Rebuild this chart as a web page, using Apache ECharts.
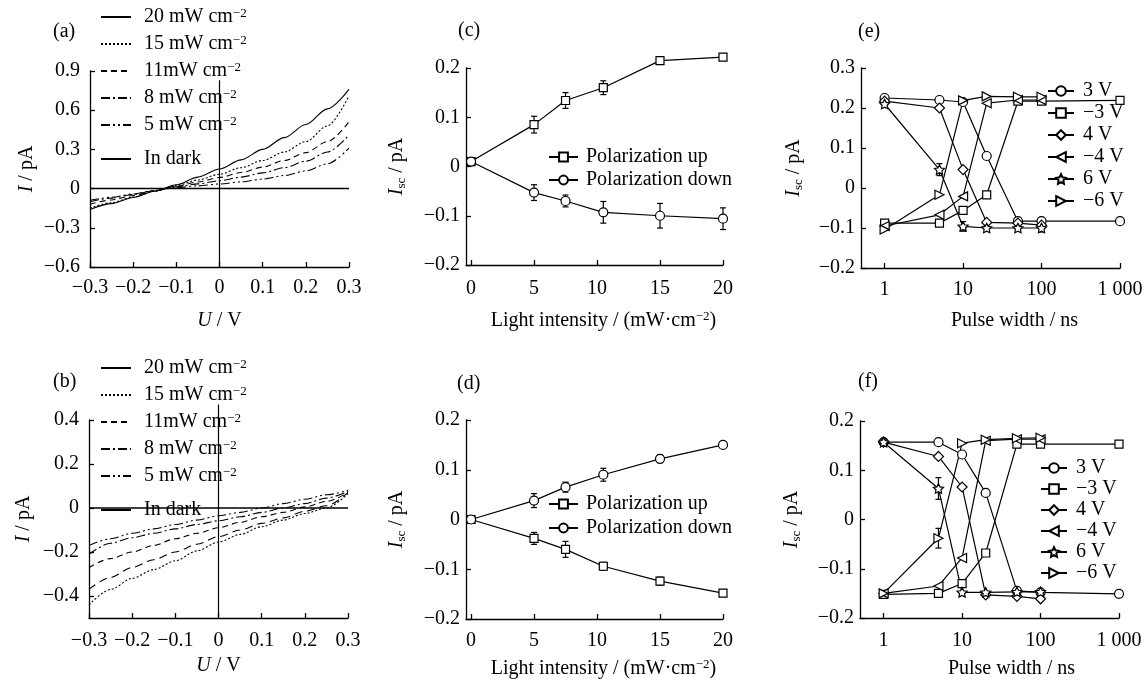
<!DOCTYPE html>
<html>
<head>
<meta charset="utf-8">
<title>Photocurrent panels</title>
<script src="https://cdn.jsdelivr.net/npm/echarts@6/dist/echarts.min.js"></script>
<style>
  html, body { margin: 0; padding: 0; background: #fff; }
  #chart { width: 1147px; height: 681px; }
</style>
</head>
<body>
<div id="chart"></div>
<script>
const serif = '"Liberation Serif", "Times New Roman", serif';

// (a) and (b): I-U curves
const voltage = [-0.3, -0.25, -0.2, -0.15, -0.1, -0.05, 0, 0.05, 0.1, 0.15, 0.2, 0.25, 0.3];
const lightNames = ['20 mW cm-2', '15 mW cm-2', '11mW cm-2', '8 mW cm-2', '5 mW cm-2'];
const darkName = 'In dark';

const a20 = [-0.16, -0.115, -0.068, -0.02, 0.03, 0.088, 0.15, 0.22, 0.30, 0.39, 0.49, 0.61, 0.76];
const a15 = [-0.15, -0.108, -0.065, -0.02, 0.023, 0.066, 0.11, 0.16, 0.215, 0.28, 0.36, 0.48, 0.71];
const a11 = [-0.12, -0.087, -0.053, -0.017, 0.018, 0.05, 0.085, 0.123, 0.165, 0.215, 0.275, 0.36, 0.51];
const a8 = [-0.10, -0.073, -0.045, -0.015, 0.013, 0.036, 0.06, 0.088, 0.12, 0.16, 0.21, 0.28, 0.41];
const a5 = [-0.09, -0.066, -0.041, -0.014, 0.008, 0.021, 0.035, 0.052, 0.073, 0.1, 0.135, 0.19, 0.31];
const aDark = [0, 0, 0, 0, 0, 0, 0, 0, 0, 0, 0, 0, 0];
const aZeroLine = [[0, -0.6], [0, 0.83]];

const b20 = [-0.37, -0.315, -0.27, -0.235, -0.2, -0.165, -0.13, -0.1, -0.07, -0.045, -0.015, 0.01, 0.07];
const b15 = [-0.44, -0.37, -0.32, -0.28, -0.24, -0.195, -0.155, -0.12, -0.085, -0.055, -0.025, 0.0, 0.065];
const b11 = [-0.27, -0.23, -0.2, -0.17, -0.14, -0.115, -0.09, -0.065, -0.04, -0.02, 0.005, 0.03, 0.07];
const b8 = [-0.21, -0.16, -0.135, -0.115, -0.095, -0.075, -0.058, -0.04, -0.02, 0, 0.02, 0.045, 0.075];
const b5 = [-0.17, -0.14, -0.115, -0.095, -0.075, -0.055, -0.035, -0.02, 0, 0.02, 0.04, 0.06, 0.08];
const bDark = [0, 0, 0, 0, 0, 0, 0, 0, 0, 0, 0, 0, 0];
const bZeroLine = [[0, -0.5], [0, 0.47]];

// (c) and (d): Isc vs light intensity
const light = [0, 5, 7.5, 10.5, 15, 20];
const cUp = [0.01, 0.085, 0.134, 0.16, 0.215, 0.222];
const cUpErr = [0, 0.017, 0.016, 0.014, 0.005, 0];
const cDown = [0.01, -0.053, -0.07, -0.093, -0.1, -0.106];
const cDownErr = [0, 0.016, 0.012, 0.022, 0.025, 0.022];
const dUp = [0, -0.038, -0.06, -0.094, -0.124, -0.148];
const dUpErr = [0, 0.012, 0.016, 0.008, 0.008, 0.004];
const dDown = [0, 0.038, 0.065, 0.09, 0.122, 0.15];
const dDownErr = [0, 0.014, 0.01, 0.013, 0.008, 0];

// (e) and (f): Isc vs pulse width
const pulse = [1, 5, 10, 20, 50, 100, 1000];
const pulseNames = ['3 V', '−3 V', '4 V', '−4 V', '6 V', '−6 V'];
const e3 = [0.225, 0.22, 0.215, 0.08, -0.083, -0.083, -0.083];
const eM3 = [-0.088, -0.088, -0.056, -0.017, 0.217, 0.217, 0.219];
const e4 = [0.217, 0.2, 0.046, -0.086, -0.088, -0.093, null];
const eM4 = [-0.095, -0.067, -0.021, 0.212, 0.22, 0.22, null];
const e6 = [0.21, 0.046, -0.096, -0.1, -0.1, -0.1, null];
const eM6 = [-0.104, -0.017, 0.219, 0.229, 0.228, 0.228, null];
const e6Err = [0, 0.015, 0.012, 0.005, 0.005, 0.01, 0];

const f3 = [0.157, 0.157, 0.132, 0.054, -0.145, -0.148, -0.151];
const fM3 = [-0.152, -0.15, -0.13, -0.068, 0.153, 0.153, 0.153];
const f4 = [0.157, 0.128, 0.066, -0.153, -0.156, -0.161, null];
const fM4 = [-0.15, -0.135, -0.078, 0.16, 0.163, 0.163, null];
const f6 = [0.157, 0.063, -0.148, -0.148, -0.147, -0.147, null];
const fM6 = [-0.15, -0.038, 0.155, 0.162, 0.165, 0.166, null];
const f6Err = [0, 0.022, 0, 0, 0, 0, 0];
const fM6Err = [0, 0.02, 0, 0, 0, 0, 0];

const STAR = 'path://M0,-10L2.94,-4.05L9.51,-3.09L4.76,1.55L5.88,8.09L0,5L-5.88,8.09L-4.76,1.55L-9.51,-3.09L-2.94,-4.05Z';
const TRI_LEFT = 'path://M10,0L0,5L10,10Z';
const TRI_RIGHT = 'path://M0,0L10,5L0,10Z';
const pulseSymbols = [['circle', 9], ['rect', 8], ['diamond', 10], [TRI_LEFT, 9], [STAR, 10], [TRI_RIGHT, 9]];

function pair(xs, ys) {
  return xs.map((x, i) => [x, ys[i]]).filter(p => p[1] !== null);
}

function num(v) {
  const n = Math.round(v * 100) / 100;
  return n < 0 ? '−' + (-n) : String(n);
}

const black = '#000';

function curve(name, xs, ys, idx, dash, width) {
  return {
    name, type: 'line', xAxisIndex: idx, yAxisIndex: idx,
    data: pair(xs, ys), symbol: 'none', smooth: 0.3, smoothMonotone: 'x',
    itemStyle: { color: 'rgba(0,0,0,0)', borderWidth: 0 },
    lineStyle: { color: black, width: width || 1.1, type: dash }, z: 2
  };
}

function points(name, xs, ys, idx, sym, size) {
  return {
    name, type: 'line', xAxisIndex: idx, yAxisIndex: idx, clip: false,
    data: pair(xs, ys), symbol: sym, symbolSize: size, symbolKeepAspect: true,
    itemStyle: { color: '#fff', borderColor: black, borderWidth: 1.2 },
    lineStyle: { color: black, width: 1.2 }, z: 3
  };
}

function errBars(xs, ys, es, idx) {
  return {
    type: 'custom', xAxisIndex: idx, yAxisIndex: idx, silent: true, z: 1, clip: false,
    dimensions: ['x', 'y', 'e'], encode: { x: 0, y: 1 },
    data: xs.map((x, i) => [x, ys[i], es[i]]).filter(d => d[1] !== null && d[2] > 0),
    renderItem(params, api) {
      const x = api.value(0), y = api.value(1), e = api.value(2);
      const top = api.coord([x, y + e]);
      const bot = api.coord([x, y - e]);
      const st = { stroke: black, lineWidth: 1.2 };
      return {
        type: 'group', children: [
          { type: 'line', shape: { x1: top[0], y1: top[1], x2: bot[0], y2: bot[1] }, style: st },
          { type: 'line', shape: { x1: top[0] - 3, y1: top[1], x2: top[0] + 3, y2: top[1] }, style: st },
          { type: 'line', shape: { x1: bot[0] - 3, y1: bot[1], x2: bot[0] + 3, y2: bot[1] }, style: st }
        ]
      };
    }
  };
}

const richText = {
  i: { fontFamily: serif, fontSize: 20, fontStyle: 'italic', color: black },
  sup: { fontFamily: serif, fontSize: 13, verticalAlign: 'top', lineHeight: 10, color: black },
  sub: { fontFamily: serif, fontSize: 13, verticalAlign: 'bottom', lineHeight: 12, color: black }
};

function axis(idx, type, min, max, ticks, extra) {
  return Object.assign({
    gridIndex: idx, type, min, max,
    axisLine: { onZero: false, lineStyle: { color: black, width: 1.3 } },
    axisTick: { inside: true, length: 5, customValues: ticks, lineStyle: { color: black, width: 1.3 } },
    axisLabel: { customValues: ticks, color: black, fontFamily: serif, fontSize: 20, margin: 10, formatter: num },
    splitLine: { show: false },
    minorTick: { show: false },
    nameLocation: 'middle',
    nameTextStyle: { fontFamily: serif, fontSize: 20, color: black, lineHeight: 22, rich: richText }
  }, extra);
}

function legend(names, left, top, gap, iconW, textPad, iconH) {
  const h = iconH || 10;
  return {
    data: names, orient: 'vertical', left, top, padding: 0,
    itemWidth: iconW, itemHeight: h, itemGap: gap + Math.max(0, 20 - h) * 0,
    formatter: n => n.replace('cm-2', 'cm{sup|−2}'),
    textStyle: { fontFamily: serif, fontSize: 20, lineHeight: 20, color: black, padding: [0, 0, 0, textPad], rich: richText }
  };
}

function label(text, left, top) {
  return { text, left, top, padding: 0, textStyle: { fontFamily: serif, fontSize: 20, fontWeight: 'normal', color: black } };
}

const aSets = [a20, a15, a11, a8, a5];
const bSets = [b20, b15, b11, b8, b5];
const aDash = ['solid', [2, 2], [6, 4], [9, 3, 2, 3], [9, 3, 2, 3, 2, 3]];
const bDash = [[8, 5], [2, 2], [6, 4], [9, 3, 2, 3], [9, 3, 2, 3, 2, 3]];

const series = [];
lightNames.forEach((n, i) => series.push(curve(n, voltage, aSets[i], 0, aDash[i])));
series.push(curve(darkName, voltage, aDark, 0, 'solid', 1.5));
series.push(Object.assign(curve('', aZeroLine.map(p => p[0]), aZeroLine.map(p => p[1]), 0, 'solid', 1.2), { smooth: false, clip: false }));
lightNames.forEach((n, i) => series.push(curve(n, voltage, bSets[i], 1, bDash[i])));
series.push(curve(darkName, voltage, bDark, 1, 'solid', 1.5));
series.push(Object.assign(curve('', bZeroLine.map(p => p[0]), bZeroLine.map(p => p[1]), 1, 'solid', 1.2), { smooth: false, clip: false }));

series.push(errBars(light, cUp, cUpErr, 2), errBars(light, cDown, cDownErr, 2));
series.push(points('Polarization up', light, cUp, 2, 'rect', 8));
series.push(points('Polarization down', light, cDown, 2, 'circle', 9));
series.push(errBars(light, dUp, dUpErr, 3), errBars(light, dDown, dDownErr, 3));
series.push(points('Polarization up', light, dUp, 3, 'rect', 8));
series.push(points('Polarization down', light, dDown, 3, 'circle', 9));

const eSets = [e3, eM3, e4, eM4, e6, eM6];
const fSets = [f3, fM3, f4, fM4, f6, fM6];
series.push(errBars(pulse, e6, e6Err, 4));
series.push(errBars(pulse, f6, f6Err, 5), errBars(pulse, fM6, fM6Err, 5));
pulseNames.forEach((n, i) => series.push(points(n, pulse, eSets[i], 4, pulseSymbols[i][0], pulseSymbols[i][1])));
pulseNames.forEach((n, i) => series.push(points(n, pulse, fSets[i], 5, pulseSymbols[i][0], pulseSymbols[i][1])));

const uName = '{i|U} / V';
const iName = '{i|I} / pA';
const iscName = '{i|I}{sub|sc} / pA';
const lightName = 'Light intensity / (mW·cm{sup|−2})';
const pulseName = 'Pulse width / ns';
const pulseFmt = v => (v >= 1000 ? '1 000' : String(v));
const shifted = pad => ({ fontFamily: serif, fontSize: 20, color: black, lineHeight: 22, rich: richText, padding: [0, 0, 0, pad] });

const option = {
  animation: false,
  backgroundColor: '#fff',
  title: [
    label('(a)', 53, 22), label('(b)', 53, 372),
    label('(c)', 458, 21), label('(d)', 457, 374),
    label('(e)', 858, 22), label('(f)', 858, 372)
  ],
  legend: [
    legend(lightNames, 100, 7, 7, 30, 8),
    legend([darkName], 100, 149, 7, 30, 8),
    legend(lightNames, 100, 358, 7, 30, 8),
    legend([darkName], 100, 500, 7, 30, 8),
    legend(['Polarization up', 'Polarization down'], 548, 147, 3, 29, 3, 11),
    legend(['Polarization up', 'Polarization down'], 548, 494, 4, 29, 3, 11),
    legend(pulseNames, 1047, 81, 2, 26, 4, 12),
    legend(pulseNames, 1040, 458, 1, 26, 4, 12)
  ],
  grid: [
    { left: 90, top: 71, width: 259, height: 196 },
    { left: 89, top: 420, width: 259, height: 198 },
    { left: 466, top: 68, width: 257, height: 197 },
    { left: 466, top: 420, width: 257, height: 199 },
    { left: 861, top: 68, width: 259, height: 200 },
    { left: 860, top: 421, width: 259, height: 197 }
  ],
  xAxis: [
    axis(0, 'value', -0.3, 0.3, [-0.3, -0.2, -0.1, 0, 0.1, 0.2, 0.3], { name: uName, nameGap: 43 }),
    axis(1, 'value', -0.3, 0.3, [-0.3, -0.2, -0.1, 0, 0.1, 0.2, 0.3], { name: uName, nameGap: 37 }),
    axis(2, 'value', -0.4, 20, [0, 5, 10, 15, 20], { name: lightName, nameGap: 45, nameTextStyle: shifted(18) }),
    axis(3, 'value', -0.4, 20, [0, 5, 10, 15, 20], { name: lightName, nameGap: 39, nameTextStyle: shifted(18) }),
    axis(4, 'log', 0.5, 1000, [1, 10, 100, 1000], { name: pulseName, nameGap: 42, nameTextStyle: shifted(48) }),
    axis(5, 'log', 0.5, 1000, [1, 10, 100, 1000], { name: pulseName, nameGap: 40, nameTextStyle: shifted(44) })
  ],
  yAxis: [
    axis(0, 'value', -0.6, 0.9, [-0.6, -0.3, 0, 0.3, 0.6, 0.9], { name: iName, nameGap: 52 }),
    axis(1, 'value', -0.5, 0.4, [-0.4, -0.2, 0, 0.2, 0.4], { name: iName, nameGap: 54 }),
    axis(2, 'value', -0.2, 0.2, [-0.2, -0.1, 0, 0.1, 0.2], { name: iscName, nameGap: 58 }),
    axis(3, 'value', -0.2, 0.2, [-0.2, -0.1, 0, 0.1, 0.2], { name: iscName, nameGap: 58 }),
    axis(4, 'value', -0.2, 0.3, [-0.2, -0.1, 0, 0.1, 0.2, 0.3], { name: iscName, nameGap: 56 }),
    axis(5, 'value', -0.2, 0.2, [-0.2, -0.1, 0, 0.1, 0.2], { name: iscName, nameGap: 57 })
  ],
  series
};

// pulse-width axes: plain "1 000" style labels
option.xAxis[4].axisLabel.formatter = pulseFmt;
option.xAxis[5].axisLabel.formatter = pulseFmt;
option.xAxis[4].axisLabel.margin = 12;
option.xAxis[5].axisLabel.margin = 13;
option.xAxis[2].axisLabel.margin = 14;
option.xAxis[3].axisLabel.margin = 12;
option.xAxis[0].axisLabel.margin = 11;
option.xAxis[1].axisLabel.margin = 13;
[2, 3, 4, 5].forEach(i => { option.yAxis[i].axisLabel.margin = 6; });

const myChart = echarts.init(document.getElementById('chart'), null, { renderer: 'canvas' });
myChart.setOption(option);
</script>
</body>
</html>
